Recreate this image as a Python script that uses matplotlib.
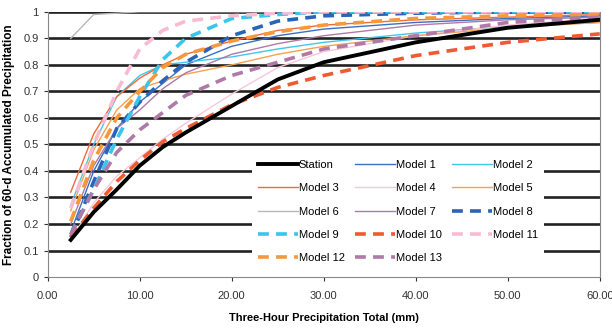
import matplotlib
matplotlib.use("Agg")
import matplotlib.pyplot as plt

plt.rcParams['font.family'] = ['Liberation Sans', 'DejaVu Sans']

# precipitation totals (mm)
x = [2.5, 5, 7.5, 10, 12.5, 15, 20, 25, 30, 40, 50, 60]

station  = [0.14, 0.245, 0.33, 0.42, 0.49, 0.545, 0.645, 0.745, 0.81, 0.885, 0.94, 0.97]
model_1  = [0.17, 0.40, 0.56, 0.66, 0.73, 0.80, 0.87, 0.91, 0.935, 0.96, 0.975, 0.985]
model_2  = [0.27, 0.50, 0.68, 0.76, 0.80, 0.81, 0.83, 0.86, 0.885, 0.92, 0.945, 0.96]
model_3  = [0.32, 0.54, 0.68, 0.75, 0.80, 0.84, 0.89, 0.93, 0.95, 0.97, 0.98, 0.99]
model_4  = [0.14, 0.28, 0.38, 0.45, 0.52, 0.58, 0.69, 0.79, 0.85, 0.91, 0.95, 0.975]
model_5  = [0.25, 0.48, 0.63, 0.71, 0.74, 0.765, 0.80, 0.84, 0.87, 0.91, 0.94, 0.96]
model_6  = [0.90, 0.99, 0.995, 1.0, 1.0, 1.0, 1.0, 1.0, 1.0, 1.0, 1.0, 1.0]
model_7  = [0.20, 0.42, 0.56, 0.63, 0.71, 0.77, 0.84, 0.88, 0.91, 0.95, 0.97, 0.98]
model_8  = [0.15, 0.36, 0.56, 0.66, 0.74, 0.81, 0.91, 0.965, 0.985, 0.995, 1.0, 1.0]
model_9  = [0.16, 0.33, 0.52, 0.68, 0.82, 0.90, 0.975, 0.99, 1.0, 1.0, 1.0, 1.0]
model_10 = [0.15, 0.26, 0.36, 0.44, 0.51, 0.56, 0.65, 0.715, 0.76, 0.835, 0.885, 0.917]
model_11 = [0.26, 0.50, 0.70, 0.86, 0.93, 0.965, 0.985, 0.995, 1.0, 1.0, 1.0, 1.0]
model_12 = [0.21, 0.44, 0.60, 0.70, 0.79, 0.84, 0.89, 0.925, 0.95, 0.975, 0.985, 0.99]
model_13 = [0.16, 0.33, 0.47, 0.555, 0.62, 0.685, 0.76, 0.81, 0.86, 0.91, 0.96, 0.98]

fig = plt.figure(figsize=(6.12, 3.29), dpi=100)
ax = fig.add_axes([0.078, 0.158, 0.902, 0.806])

for yv in [0.1, 0.2, 0.3, 0.4, 0.5, 0.6, 0.7, 0.8, 0.9, 1.0]:
    ax.axhline(yv, color='#222222', lw=1.9, zorder=1)

dash = (3, 2)
series = [
    ('Station', station, '#000000', '-', 2.8),
    ('Model 1', model_1, '#3a70c4', '-', 1.0),
    ('Model 2', model_2, '#40c8ea', '-', 1.0),
    ('Model 3', model_3, '#f06a3a', '-', 1.0),
    ('Model 4', model_4, '#f7c8da', '-', 1.0),
    ('Model 5', model_5, '#f7a050', '-', 1.0),
    ('Model 6', model_6, '#b8b8b8', '-', 1.0),
    ('Model 7', model_7, '#b07aa8', '-', 1.0),
    ('Model 8', model_8, '#2a64b8', '--', 2.6),
    ('Model 9', model_9, '#3cc4ea', '--', 2.6),
    ('Model 10', model_10, '#f05a30', '--', 2.6),
    ('Model 11', model_11, '#f7bcd4', '--', 2.6),
    ('Model 12', model_12, '#f7983a', '--', 2.6),
    ('Model 13', model_13, '#b07aa8', '--', 2.6),
]

handles = {}
for name, ys, col, ls, lw in series:
    if ls == '--':
        h, = ax.plot(x, ys, color=col, lw=lw, dashes=dash, zorder=3)
    else:
        h, = ax.plot(x, ys, color=col, lw=lw, zorder=4 if name == 'Station' else 3)
    handles[name] = h

order = ['Station', 'Model 3', 'Model 6', 'Model 9', 'Model 12',
         'Model 1', 'Model 4', 'Model 7', 'Model 10', 'Model 13',
         'Model 2', 'Model 5', 'Model 8', 'Model 11']
leg = ax.legend([handles[n] for n in order], order, ncol=3, loc='lower left',
                bbox_to_anchor=(0.36, 0.01), fontsize=8, frameon=True,
                fancybox=False, edgecolor='none', framealpha=1,
                handlelength=3.6, handletextpad=0.1, columnspacing=0.9,
                labelspacing=1.2, borderpad=0.5)
leg.set_zorder(5)

ax.set_xlim(0, 60)
ax.set_ylim(0, 1)
ax.set_xticks([0, 10, 20, 30, 40, 50, 60])
ax.set_xticklabels(['0.00', '10.00', '20.00', '30.00', '40.00', '50.00', '60.00'])
ax.set_yticks([0, 0.1, 0.2, 0.3, 0.4, 0.5, 0.6, 0.7, 0.8, 0.9, 1])
ax.set_yticklabels(['0', '0.1', '0.2', '0.3', '0.4', '0.5', '0.6', '0.7', '0.8', '0.9', '1'])
ax.tick_params(axis='both', labelsize=8, colors='#333333', length=3, width=0.8)
ax.tick_params(axis='x', pad=7)

ax.spines['top'].set_visible(False)
for side in ['left', 'bottom', 'right']:
    ax.spines[side].set_color('#888888')
    ax.spines[side].set_linewidth(0.8)

ax.set_xlabel('Three-Hour Precipitation Total (mm)', fontsize=8, fontweight='bold', labelpad=9)
ax.set_ylabel('Fraction of 60-d Accumulated Precipitation', fontsize=8.5, fontweight='bold', labelpad=6)

fig.savefig('out.png', dpi=100)
